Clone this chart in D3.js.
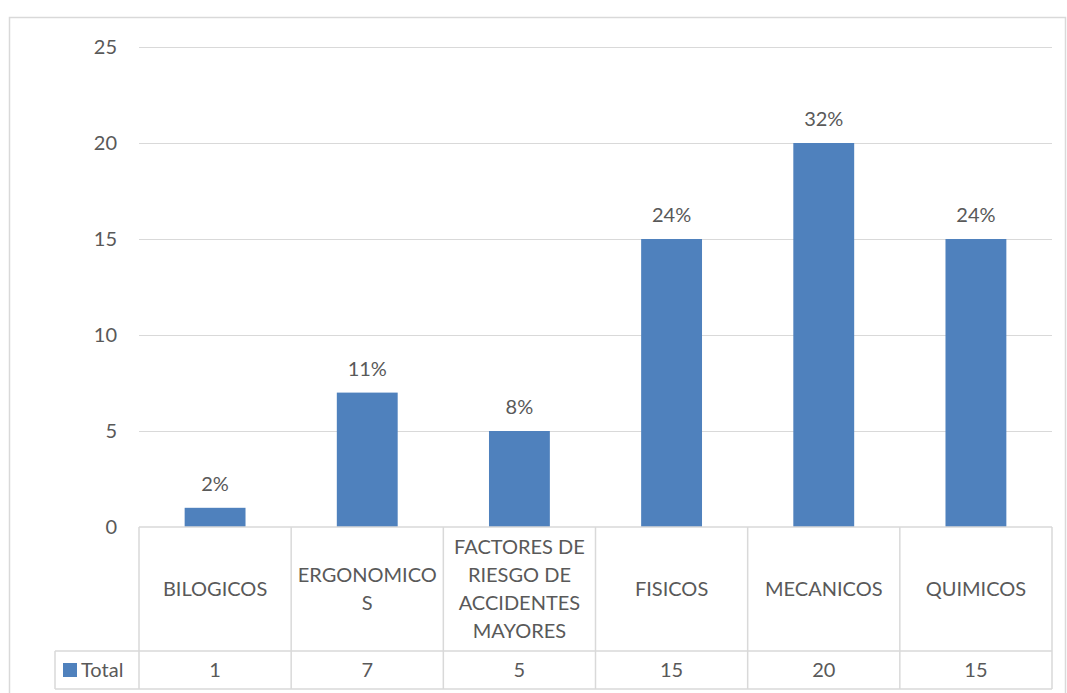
<!DOCTYPE html>
<html>
<head>
<meta charset="utf-8">
<script src="https://cdn.jsdelivr.net/npm/d3@7"></script>
<style>
  html, body { margin: 0; padding: 0; background: #fff; }
  svg { display: block; }
  text { font-family: Lato, "Open Sans", sans-serif; fill: #595959; }
</style>
</head>
<body>
<svg id="chart" width="1067" height="693"></svg>
<script>
// Risk categories and their counts
const categories = [
  ["BILOGICOS"],
  ["ERGONOMICO", "S"],
  ["FACTORES DE", "RIESGO DE", "ACCIDENTES", "MAYORES"],
  ["FISICOS"],
  ["MECANICOS"],
  ["QUIMICOS"]
];
const totals = [1, 7, 5, 15, 20, 15];
const shareLabels = ["2%", "11%", "8%", "24%", "32%", "24%"];
const yTicks = [0, 5, 10, 15, 20, 25];
const seriesName = "Total";

const svg = d3.select("#chart");
const barColor = "#4f81bd";
const gridColor = "#d9d9d9";
const fontSize = "20px";
const lineGap = 28;

// Chart frame
svg.append("rect")
  .attr("x", 9.5).attr("y", 17.5)
  .attr("width", 1056).attr("height", 690)
  .attr("fill", "#fff").attr("stroke", gridColor).attr("stroke-width", 1.5);

const plotLeft = 139, plotRight = 1052, plotTop = 47, plotBase = 527;
const x = d3.scaleBand().domain(d3.range(categories.length)).range([plotLeft, plotRight]).paddingInner(0).paddingOuter(0);
const y = d3.scaleLinear().domain([0, 25]).range([plotBase, plotTop]);

// Horizontal gridlines
svg.append("g").selectAll("line").data(yTicks.filter(t => t > 0)).join("line")
  .attr("x1", plotLeft).attr("x2", plotRight)
  .attr("y1", d => Math.round(y(d)) + 0.5).attr("y2", d => Math.round(y(d)) + 0.5)
  .attr("stroke", gridColor).attr("stroke-width", 1);

// Y axis labels
const yAxis = d3.axisLeft(y).tickValues(yTicks).tickSize(0).tickPadding(0);
const ya = svg.append("g").attr("transform", `translate(117,0)`).call(yAxis);
ya.select(".domain").remove();
ya.selectAll("text").style("font-size", fontSize).attr("fill", "#595959")
  .style("font-family", "Lato, 'Open Sans', sans-serif");

// Bars
const bw = x.bandwidth() * 0.4;
svg.append("g").selectAll("rect").data(totals).join("rect")
  .attr("x", (d, i) => x(i) + (x.bandwidth() - bw) / 2)
  .attr("width", bw)
  .attr("y", d => y(d))
  .attr("height", d => plotBase - y(d))
  .attr("fill", barColor);

// Data labels
svg.append("g").selectAll("text").data(totals).join("text")
  .attr("x", (d, i) => x(i) + x.bandwidth() / 2)
  .attr("y", d => y(d) - 17)
  .attr("text-anchor", "middle")
  .style("font-size", fontSize)
  .text((d, i) => shareLabels[i]);

// Data table
const rowTop = plotBase, rowMid = 651, rowBot = 689, legLeft = 55;
const tbl = svg.append("g").attr("stroke", gridColor).attr("stroke-width", 1.5).attr("fill", "none");
tbl.append("line").attr("x1", plotLeft).attr("x2", plotRight).attr("y1", rowTop).attr("y2", rowTop);
tbl.append("line").attr("x1", legLeft).attr("x2", plotRight).attr("y1", rowMid).attr("y2", rowMid);
tbl.append("line").attr("x1", legLeft).attr("x2", plotRight).attr("y1", rowBot).attr("y2", rowBot);
tbl.append("line").attr("x1", legLeft).attr("x2", legLeft).attr("y1", rowMid).attr("y2", rowBot);
tbl.selectAll(".v").data(d3.range(categories.length + 1)).join("line")
  .attr("x1", i => i < categories.length ? x(i) : plotRight)
  .attr("x2", i => i < categories.length ? x(i) : plotRight)
  .attr("y1", rowTop).attr("y2", rowBot);

// Category names
const catG = svg.append("g").selectAll("text").data(categories).join("text")
  .attr("text-anchor", "middle")
  .style("font-size", fontSize)
  .attr("transform", (d, i) => `translate(${x(i) + x.bandwidth() / 2},${(rowTop + rowMid) / 2 - (d.length - 1) * lineGap / 2 + 7})`);
catG.selectAll("tspan").data(d => d).join("tspan")
  .attr("x", 0).attr("dy", (d, j) => j === 0 ? 0 : lineGap)
  .text(d => d);

// Values row
svg.append("g").selectAll("text").data(totals).join("text")
  .attr("x", (d, i) => x(i) + x.bandwidth() / 2)
  .attr("y", (rowMid + rowBot) / 2 + 7)
  .attr("text-anchor", "middle")
  .style("font-size", fontSize)
  .text(d => d);

// Legend key
svg.append("rect").attr("x", 63).attr("y", 663).attr("width", 14).attr("height", 14).attr("fill", barColor);
svg.append("text").attr("x", 81).attr("y", (rowMid + rowBot) / 2 + 7)
  .style("font-size", fontSize).text(seriesName);
</script>
</body>
</html>
